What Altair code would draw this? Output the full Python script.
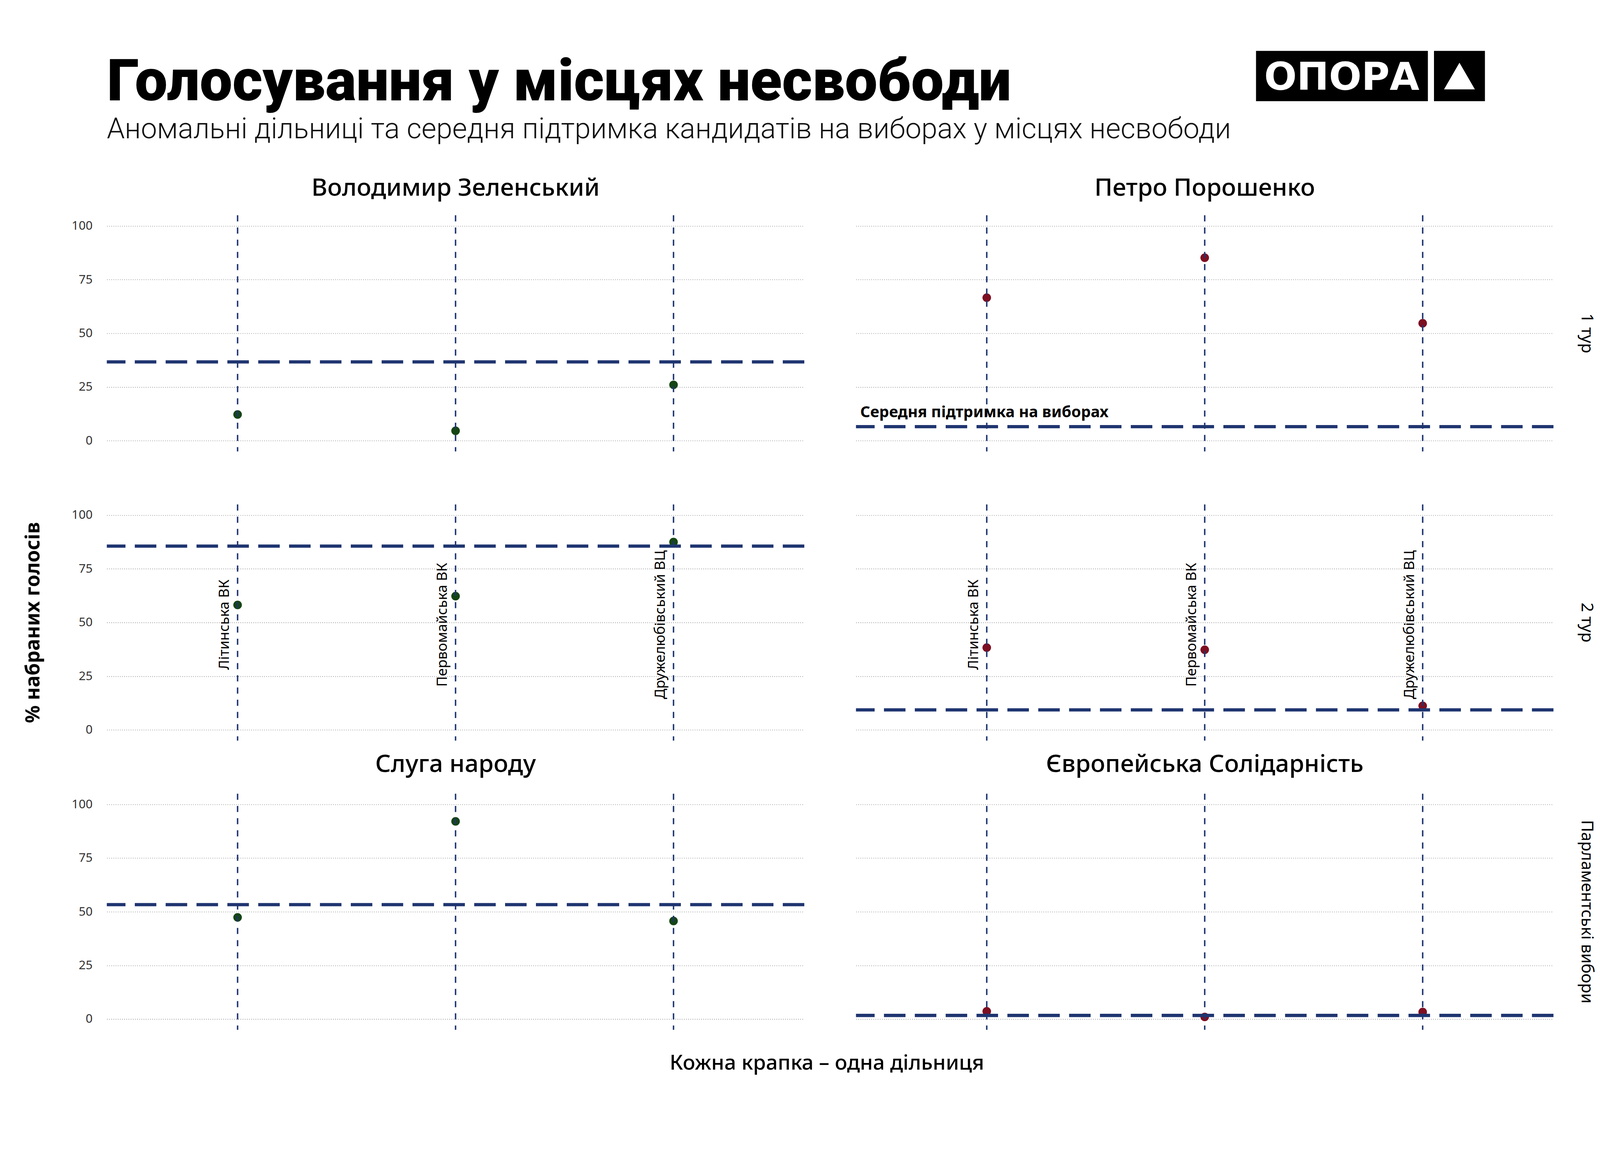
import altair as alt
import pandas as pd

# ---------------- data ----------------
stations = ["Літинська ВК", "Первомайська ВК", "Дружелюбівський ВЦ"]

zel_r1 = [12.2, 4.6, 26.0]
zel_r1_avg = 36.7
por_r1 = [66.6, 85.2, 54.7]
por_r1_avg = 6.5

zel_r2 = [58.2, 62.3, 87.5]
zel_r2_avg = 85.6
por_r2 = [38.3, 37.3, 11.2]
por_r2_avg = 9.3

sn_parl = [47.4, 92.1, 45.7]
sn_parl_avg = 53.3
es_parl = [3.6, 1.0, 3.3]
es_parl_avg = 1.7

row_labels = ["1 тур", "2 тур", "Парламентські вибори"]
left_titles = ["Володимир Зеленський", "Слуга народу"]
right_titles = ["Петро Порошенко", "Європейська Солідарність"]
y_ticks = [0, 25, 50, 75, 100]
station_label_y = 49
note_text = "Середня підтримка на виборах"
note_y = 11

title_text = "Голосування у місцях несвободи"
subtitle_text = "Аномальні дільниці та середня підтримка кандидатів на виборах у місцях несвободи"
y_title = "% набраних голосів"
x_title = "Кожна крапка – одна дільниця"
logo_text = "ОПОРА"

# ---------------- style ----------------
NAVY = "#1f3570"
GREEN = "#154515"
RED = "#7d0f22"
FONT = "Noto Sans"
PW, PH = 1944, 658
GAP = 144

# ---------------- long table built from the arrays above ----------------
panels = [
    (row_labels[0], "L", zel_r1, zel_r1_avg),
    (row_labels[0], "R", por_r1, por_r1_avg),
    (row_labels[1], "L", zel_r2, zel_r2_avg),
    (row_labels[1], "R", por_r2, por_r2_avg),
    (row_labels[2], "L", sn_parl, sn_parl_avg),
    (row_labels[2], "R", es_parl, es_parl_avg),
]
recs = []
for r, c, vals, avg in panels:
    for s, v in zip(stations, vals):
        recs.append({"row": r, "col": c, "kind": "pt", "station": s, "pct": v, "text": s})
    recs.append({"row": r, "col": c, "kind": "avg", "pct": avg})
    if r == row_labels[1]:
        for s in stations:
            recs.append({"row": r, "col": c, "kind": "lab", "station": s,
                         "pct": station_label_y, "text": s})
    if c == "R":
        recs.append({"row": r, "col": c, "kind": "rowlab", "text": r})
recs.append({"row": row_labels[0], "col": "R", "kind": "note", "pct": note_y, "text": note_text})
recs.append({"row": row_labels[0], "col": "L", "kind": "coltitle1", "text": left_titles[0]})
recs.append({"row": row_labels[0], "col": "R", "kind": "coltitle1", "text": right_titles[0]})
recs.append({"row": row_labels[2], "col": "L", "kind": "coltitle3", "text": left_titles[1]})
recs.append({"row": row_labels[2], "col": "R", "kind": "coltitle3", "text": right_titles[1]})
recs.append({"row": row_labels[1], "col": "L", "kind": "ytitle", "text": y_title})
recs.append({"row": row_labels[2], "col": "L", "kind": "xtitle", "text": x_title})
recs.append({"row": row_labels[0], "col": "L", "kind": "title", "text": title_text})
recs.append({"row": row_labels[0], "col": "L", "kind": "subtitle", "text": subtitle_text})
recs.append({"row": row_labels[0], "col": "L", "kind": "logo", "text": logo_text})
df = pd.DataFrame(recs)

# ---------------- encodings ----------------
x = alt.X("station:N", axis=None,
          scale=alt.Scale(type="point", padding=0.6, domain=stations))
y = alt.Y("pct:Q",
          axis=alt.Axis(values=y_ticks, domain=False, ticks=False, title=None,
                        labelFontSize=34, labelColor="#333333", labelFont=FONT,
                        labelPadding=40, grid=True, gridDash=[2, 4],
                        gridColor="#9a9a9a", gridWidth=2),
          scale=alt.Scale(domain=[-5, 105], nice=False, zero=False))
colr = alt.Color("col:N", scale=alt.Scale(domain=["L", "R"], range=[GREEN, RED]),
                 legend=None)

base = alt.Chart()


def k(name):
    return alt.datum.kind == name


pts = base.mark_circle(size=570, opacity=1).encode(x=x, y=y, color=colr).transform_filter(k("pt"))
avg_rule = base.mark_rule(color=NAVY, strokeWidth=9, strokeDash=[60, 26]).encode(
    y=y).transform_filter(k("avg"))
vlines = base.mark_rule(color=NAVY, strokeWidth=4, strokeDash=[17, 17]).encode(
    x=x).transform_filter(k("pt"))
labs = base.mark_text(angle=270, align="center", baseline="bottom", dy=-16, fontSize=40,
                      font=FONT, color="#000000").encode(
    x=x, y=y, text="text:N").transform_filter(k("lab"))
note = base.mark_text(align="left", baseline="alphabetic", fontSize=43, font=FONT,
                      fontWeight="bold", color="#000000").encode(
    x=alt.value(12), y=y, text="text:N").transform_filter(k("note"))
rowlab = base.mark_text(angle=90, align="center", baseline="middle", fontSize=46,
                        font=FONT, color="#000000").encode(
    x=alt.value(PW + 92), y=alt.value(PH / 2), text="text:N").transform_filter(k("rowlab"))
ytitle = base.mark_text(angle=270, align="center", baseline="middle", fontSize=55,
                        font=FONT, fontWeight="bold", color="#000000").encode(
    x=alt.value(-205), y=alt.value(PH / 2), text="text:N").transform_filter(k("ytitle"))
xtitle = base.mark_text(align="center", baseline="middle", fontSize=58, font=FONT,
                        fontWeight=500, color="#000000").encode(
    x=alt.value(PW + GAP / 2 - 9), y=alt.value(PH + 94), text="text:N").transform_filter(k("xtitle"))
ct1 = base.mark_text(align="center", baseline="middle", fontSize=68, font=FONT,
                     fontWeight=500, color="#000000").encode(
    x=alt.value(PW / 2), y=alt.value(-75), text="text:N").transform_filter(k("coltitle1"))
ct3 = base.mark_text(align="center", baseline="middle", fontSize=68, font=FONT,
                     fontWeight=500, color="#000000").encode(
    x=alt.value(PW / 2), y=alt.value(-81), text="text:N").transform_filter(k("coltitle3"))
title_m = base.mark_text(align="left", baseline="alphabetic", fontSize=162, font="Roboto",
                         fontWeight=900, color="#000000").encode(
    x=alt.value(0), y=alt.value(-320), text="text:N").transform_filter(k("title"))
sub_m = base.mark_text(align="left", baseline="alphabetic", fontSize=80, font="Roboto",
                       fontWeight=300, color="#111111").encode(
    x=alt.value(0), y=alt.value(-215), text="text:N").transform_filter(k("subtitle"))
box1 = base.mark_rect(color="#000000").encode(
    x=alt.value(3203), x2=alt.value(3682), y=alt.value(-458), y2=alt.value(-318)
).transform_filter(k("logo"))
box2 = base.mark_rect(color="#000000").encode(
    x=alt.value(3699), x2=alt.value(3841), y=alt.value(-458), y2=alt.value(-318)
).transform_filter(k("logo"))
logo_m = base.mark_text(align="center", baseline="alphabetic", fontSize=107,
                        font="DejaVu Sans", fontWeight="bold", color="#ffffff").encode(
    x=alt.value(3442), y=alt.value(-350), text="text:N").transform_filter(k("logo"))
tri = base.mark_point(shape="triangle-up", filled=True, size=7396, color="#ffffff",
                      opacity=1).encode(
    x=alt.value(3770), y=alt.value(-388)).transform_filter(k("logo"))

layered = alt.layer(pts, avg_rule, vlines, labs, note, rowlab, ytitle, xtitle, ct1, ct3,
                    title_m, sub_m, box1, box2, logo_m, tri,
                    data=df).properties(width=PW, height=PH)

chart = layered.facet(
    row=alt.Row("row:N", sort=row_labels, header=None, title=None),
    column=alt.Column("col:N", sort=["L", "R"], header=None, title=None),
    spacing={"row": 148, "column": GAP},
    bounds="flush",
).properties(
    padding={"left": 56, "top": 5, "right": 5, "bottom": 10},
    background="#ffffff",
).configure_view(stroke="transparent")

chart.save("out.html", embed_options={"renderer": "svg", "actions": False})
